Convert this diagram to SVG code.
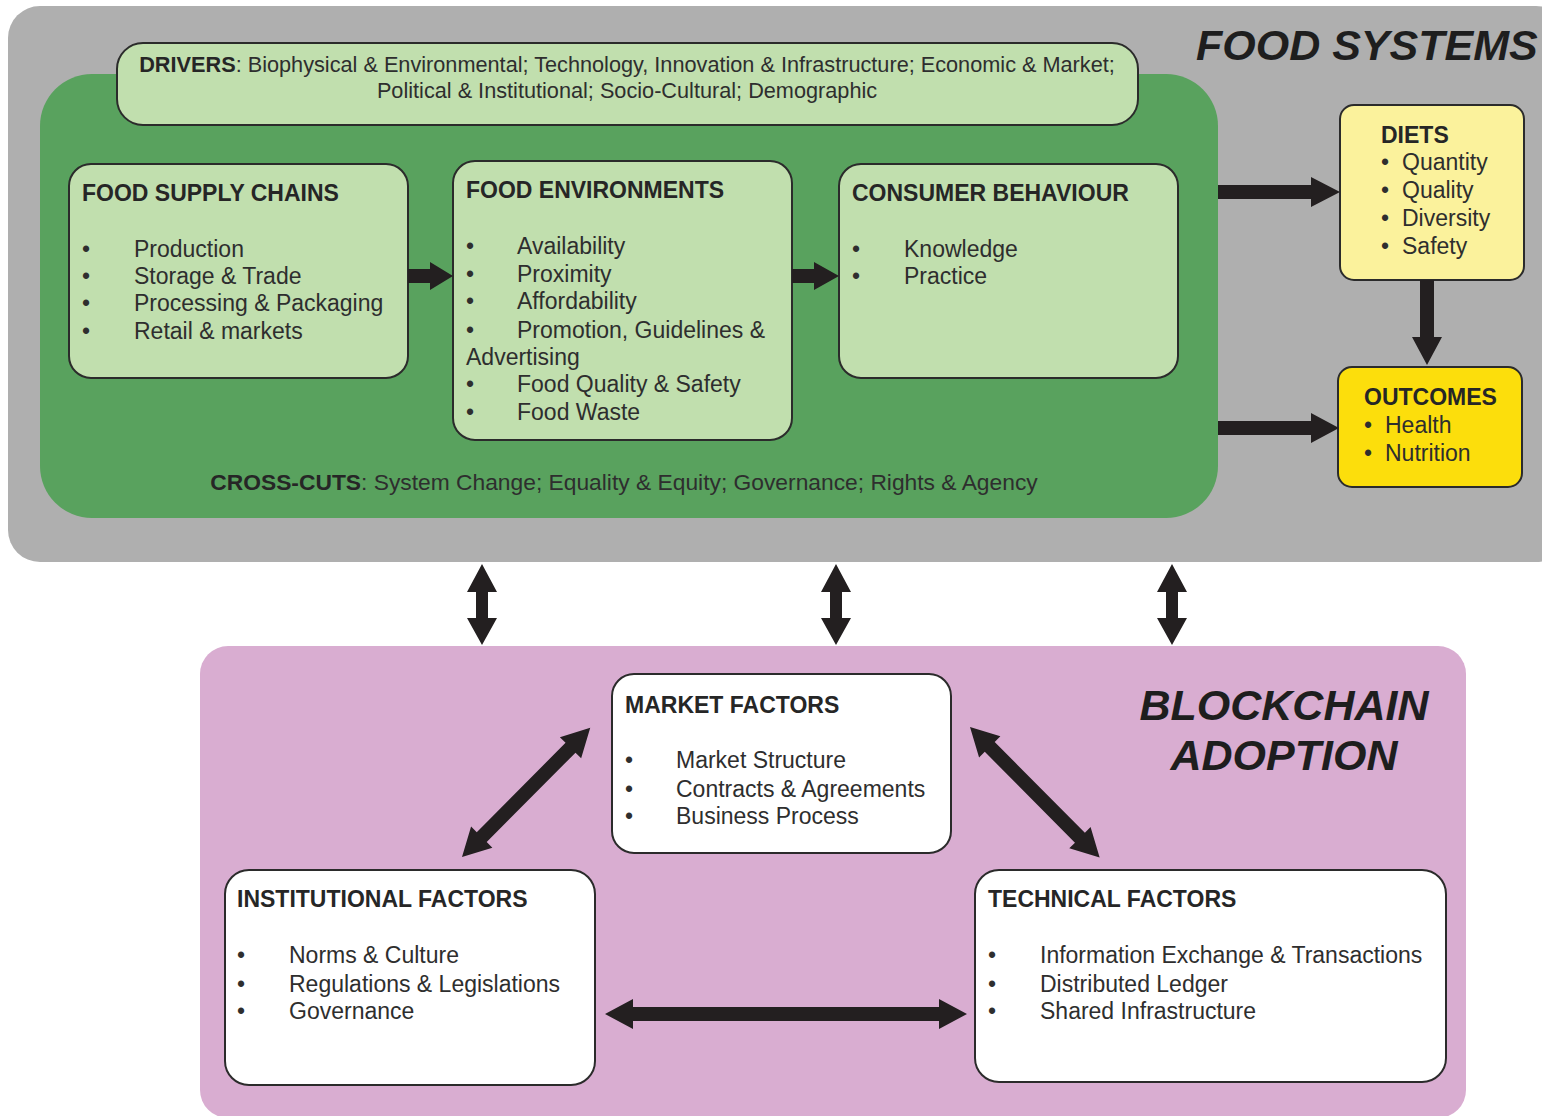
<svg xmlns="http://www.w3.org/2000/svg" width="1542" height="1116" viewBox="0 0 1542 1116">
  <style>
    text { font-family: "Liberation Sans", Arial, sans-serif; fill: #2e2e2e; }
    .hd { font-weight: bold; font-size: 23px; fill: #262626; }
    .it { font-size: 23px; }
    .title { font-weight: bold; font-style: italic; font-size: 43px; fill: #1e1e1e; }
    .box { stroke: #2b2b2b; stroke-width: 2; }
    .lg { fill: #c1dfae; }
    .wh { fill: #ffffff; }
    .arr { fill: #231f20; }
  </style>

  <!-- background panels -->
  <rect id="food-systems" x="8" y="6" width="1560" height="556" rx="32" fill="#afafaf"/>
  <rect id="green-core" x="40" y="74" width="1178" height="444" rx="52" fill="#59a25e"/>
  <rect id="blockchain" x="200" y="646" width="1266" height="472" rx="28" fill="#d9add1"/>

  <text class="title" x="1196" y="60">FOOD SYSTEMS</text>
  <text class="title" x="1284" y="720" text-anchor="middle">BLOCKCHAIN</text>
  <text class="title" x="1284" y="770" text-anchor="middle">ADOPTION</text>

  <g id="drivers">
    <rect class="box lg" x="117" y="43" width="1021" height="82" rx="26"/>
    <text x="627" y="72" text-anchor="middle" style="font-size:21.7px"><tspan font-weight="bold" fill="#262626">DRIVERS</tspan>: Biophysical &amp; Environmental; Technology, Innovation &amp; Infrastructure; Economic &amp; Market;</text>
    <text x="627" y="98" text-anchor="middle" style="font-size:21.7px">Political &amp; Institutional; Socio-Cultural; Demographic</text>
  </g>

  <g id="food-supply-chains">
    <rect class="box lg" x="69" y="164" width="339" height="214" rx="22"/>
    <text class="hd" x="82" y="201">FOOD SUPPLY CHAINS</text>
    <g class="it">
      <text x="82" y="257">•</text><text x="134" y="257">Production</text>
      <text x="82" y="284">•</text><text x="134" y="284">Storage &amp; Trade</text>
      <text x="82" y="311">•</text><text x="134" y="311">Processing &amp; Packaging</text>
      <text x="82" y="339">•</text><text x="134" y="339">Retail &amp; markets</text>
    </g>
  </g>

  <g id="food-environments">
    <rect class="box lg" x="453" y="161" width="339" height="279" rx="22"/>
    <text class="hd" x="466" y="198">FOOD ENVIRONMENTS</text>
    <g class="it">
      <text x="466" y="254">•</text><text x="517" y="254">Availability</text>
      <text x="466" y="282">•</text><text x="517" y="282">Proximity</text>
      <text x="466" y="309">•</text><text x="517" y="309">Affordability</text>
      <text x="466" y="338">•</text><text x="517" y="338">Promotion, Guidelines &amp;</text>
      <text x="466" y="365">Advertising</text>
      <text x="466" y="392">•</text><text x="517" y="392">Food Quality &amp; Safety</text>
      <text x="466" y="420">•</text><text x="517" y="420">Food Waste</text>
    </g>
  </g>

  <g id="consumer-behaviour">
    <rect class="box lg" x="839" y="164" width="339" height="214" rx="22"/>
    <text class="hd" x="852" y="201">CONSUMER BEHAVIOUR</text>
    <g class="it">
      <text x="852" y="257">•</text><text x="904" y="257">Knowledge</text>
      <text x="852" y="284">•</text><text x="904" y="284">Practice</text>
    </g>
  </g>

  <text id="cross-cuts" x="624" y="490" text-anchor="middle" style="font-size:22.8px"><tspan font-weight="bold" fill="#262626">CROSS-CUTS</tspan>: System Change; Equality &amp; Equity; Governance; Rights &amp; Agency</text>

  <g id="diets">
    <rect class="box" x="1340" y="105" width="184" height="175" rx="14" fill="#fbf29c"/>
    <text class="hd" x="1381" y="143">DIETS</text>
    <g class="it">
      <text x="1381" y="170">•</text><text x="1402" y="170">Quantity</text>
      <text x="1381" y="198">•</text><text x="1402" y="198">Quality</text>
      <text x="1381" y="226">•</text><text x="1402" y="226">Diversity</text>
      <text x="1381" y="254">•</text><text x="1402" y="254">Safety</text>
    </g>
  </g>

  <g id="outcomes">
    <rect class="box" x="1338" y="367" width="184" height="120" rx="14" fill="#fcde0c"/>
    <text class="hd" x="1364" y="405">OUTCOMES</text>
    <g class="it">
      <text x="1364" y="433">•</text><text x="1385" y="433">Health</text>
      <text x="1364" y="461">•</text><text x="1385" y="461">Nutrition</text>
    </g>
  </g>

  <g id="market-factors">
    <rect class="box wh" x="612" y="674" width="339" height="179" rx="22"/>
    <text class="hd" x="625" y="713">MARKET FACTORS</text>
    <g class="it">
      <text x="625" y="768">•</text><text x="676" y="768">Market Structure</text>
      <text x="625" y="797">•</text><text x="676" y="797">Contracts &amp; Agreements</text>
      <text x="625" y="824">•</text><text x="676" y="824">Business Process</text>
    </g>
  </g>

  <g id="institutional-factors">
    <rect class="box wh" x="225" y="870" width="370" height="215" rx="24"/>
    <text class="hd" x="237" y="907">INSTITUTIONAL FACTORS</text>
    <g class="it">
      <text x="237" y="963">•</text><text x="289" y="963">Norms &amp; Culture</text>
      <text x="237" y="992">•</text><text x="289" y="992">Regulations &amp; Legislations</text>
      <text x="237" y="1019">•</text><text x="289" y="1019">Governance</text>
    </g>
  </g>

  <g id="technical-factors">
    <rect class="box wh" x="975" y="870" width="471" height="212" rx="24"/>
    <text class="hd" x="988" y="907">TECHNICAL FACTORS</text>
    <g class="it">
      <text x="988" y="963">•</text><text x="1040" y="963">Information Exchange &amp; Transactions</text>
      <text x="988" y="992">•</text><text x="1040" y="992">Distributed Ledger</text>
      <text x="988" y="1019">•</text><text x="1040" y="1019">Shared Infrastructure</text>
    </g>
  </g>

  <g id="connectors" class="arr">
    <!-- single-headed flow arrows -->
    <polygon points="408,269 430,269 430,262 453,276 430,290 430,283 408,283"/>
    <polygon points="792,269 814,269 814,262 839,276 814,290 814,283 792,283"/>
    <polygon points="1218,185 1311,185 1311,177 1340,192 1311,207 1311,199 1218,199"/>
    <polygon points="1218,421 1311,421 1311,413 1339,428 1311,443 1311,435 1218,435"/>
    <polygon points="1420,280 1434,280 1434,337 1442,337 1427,365 1412,337 1420,337"/>

    <!-- double-headed links between the two systems -->
    <polygon points="482,564 497,592 488,592 488,618 497,618 482,645 467,618 476,618 476,592 467,592"/>
    <polygon points="836,564 851,592 842,592 842,618 851,618 836,645 821,618 830,618 830,592 821,592"/>
    <polygon points="1172,564 1187,592 1178,592 1178,618 1187,618 1172,645 1157,618 1166,618 1166,592 1157,592"/>

    <!-- double-headed links among adoption factors -->
    <polygon points="605,1014 633,999 633,1007 939,1007 939,999 967,1014 939,1029 939,1021 633,1021 633,1029"/>
    <polygon transform="translate(462,857) rotate(-45.2)" points="0,0 28,-15 28,-7 154,-7 154,-15 182,0 154,15 154,7 28,7 28,15"/>
    <polygon transform="translate(970,727) rotate(45.2)" points="0,0 28,-15 28,-7 156,-7 156,-15 184,0 156,15 156,7 28,7 28,15"/>
  </g>
</svg>
